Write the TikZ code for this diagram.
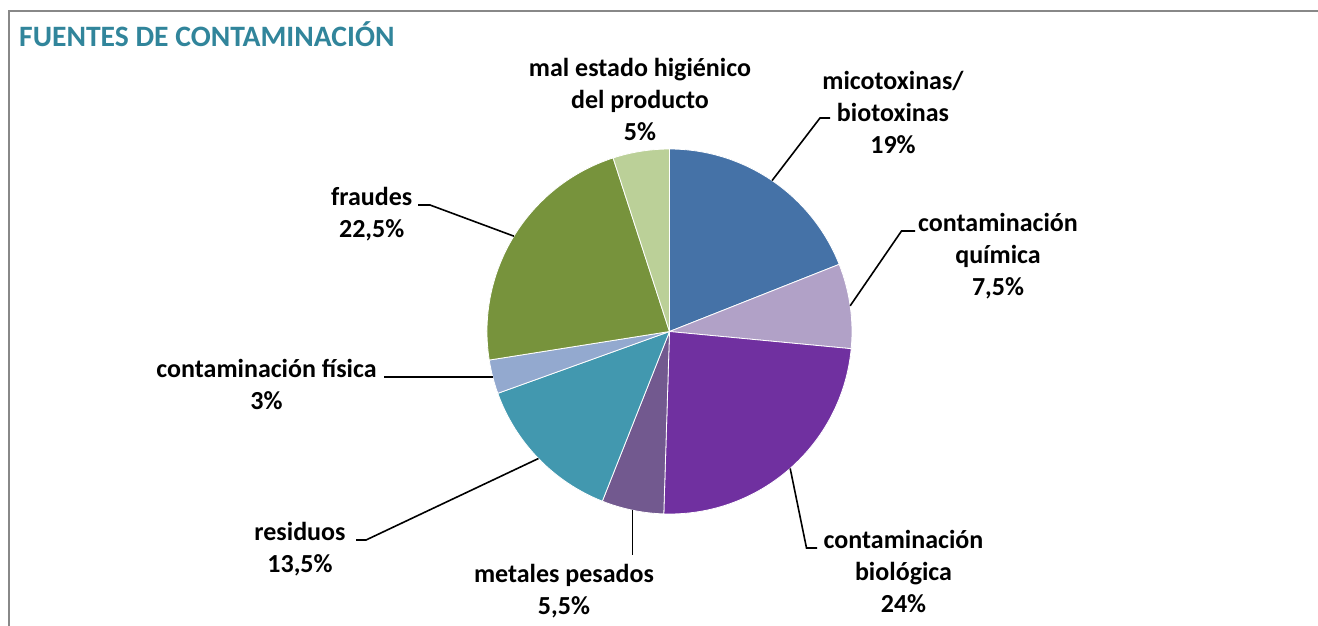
\documentclass[tikz,border=0pt]{standalone}
\usepackage{fontspec}
\setmainfont{Carlito}
\usetikzlibrary{calc}
\definecolor{cmico}{RGB}{69,114,167}
\definecolor{cquim}{RGB}{177,161,199}
\definecolor{cbio}{RGB}{112,48,160}
\definecolor{cmet}{RGB}{114,89,143}
\definecolor{cres}{RGB}{66,152,175}
\definecolor{cfis}{RGB}{147,169,207}
\definecolor{cfra}{RGB}{119,147,60}
\definecolor{cmal}{RGB}{187,208,152}
\definecolor{ctitle}{RGB}{49,133,155}
\definecolor{cframe}{RGB}{136,136,136}
\newcommand\lbltext[1]{\vtop{\baselineskip=32pt\halign{\hfil##\hfil\cr#1\crcr}}}
\tikzset{
  lab/.style={anchor=base, inner sep=0pt, font=\fontsize{26}{32}\selectfont\bfseries},
  leader/.style={draw=black, line width=1.6pt},
  slice/.style={draw=white, line width=0.8pt, line join=round},
}
\begin{document}
\begin{tikzpicture}[x=1pt,y=-1pt]
\useasboundingbox (0,0) rectangle (1318,625);
\fill[white] (0,0) rectangle (1318,625);
\draw[cframe, line width=2pt] (9,626) -- (9,11) -- (1319,11);
\node[anchor=base west, inner sep=0pt, text=ctitle, font=\fontsize{29.6}{34}\selectfont\bfseries] (title) at (19,46) {FUENTES DE CONTAMINACIÓN};
% pie
\coordinate (c) at (669.5,331.5);
\def\R{182.5}
\fill[cmico, slice] (c) -- ++(-90:\R) arc[start angle=-90, end angle=-21.6, radius=\R] -- cycle;
\fill[cquim, slice] (c) -- ++(-21.6:\R) arc[start angle=-21.6, end angle=5.4, radius=\R] -- cycle;
\fill[cbio, slice] (c) -- ++(5.4:\R) arc[start angle=5.4, end angle=91.8, radius=\R] -- cycle;
\fill[cmet, slice] (c) -- ++(91.8:\R) arc[start angle=91.8, end angle=111.6, radius=\R] -- cycle;
\fill[cres, slice] (c) -- ++(111.6:\R) arc[start angle=111.6, end angle=160.2, radius=\R] -- cycle;
\fill[cfis, slice] (c) -- ++(160.2:\R) arc[start angle=160.2, end angle=171, radius=\R] -- cycle;
\fill[cfra, slice] (c) -- ++(171:\R) arc[start angle=171, end angle=252, radius=\R] -- cycle;
\fill[cmal, slice] (c) -- ++(252:\R) arc[start angle=252, end angle=270, radius=\R] -- cycle;
% slice edge points
\coordinate (pmico) at ($(c)+(-55.8:\R)$);
\coordinate (pquim) at ($(c)+(-8.1:\R)$);
\coordinate (pbio) at ($(c)+(48.6:\R)$);
\coordinate (pmet) at ($(c)+(101.7:\R)$);
\coordinate (pres) at ($(c)+(135.9:\R)$);
\coordinate (pfis) at ($(c)+(165.6:\R)$);
\coordinate (pfra) at ($(c)+(211.5:\R)$);
% labels
\node[lab] (lmico) at (893,89) {\lbltext{micotoxinas/\cr biotoxinas\cr 19\%}};
\node[lab] (lquim) at (998,231) {\lbltext{contaminación\cr química\cr 7,5\%}};
\node[lab] (lbio) at (903.5,548) {\lbltext{contaminación\cr biológica\cr 24\%}};
\node[lab] (lmet) at (564,582) {\lbltext{metales pesados\cr 5,5\%}};
\node[lab] (lres) at (300,540) {\lbltext{residuos\cr 13,5\%}};
\node[lab] (lfis) at (266.5,377) {\lbltext{contaminación física\cr 3\%}};
\node[lab] (lfra) at (371.7,205) {\lbltext{fraudes\cr 22,5\%}};
\node[lab] (lmal) at (640,76) {\lbltext{mal estado higiénico\cr del producto\cr 5\%}};
% leader lines
\coordinate (emico) at (830,118);
\coordinate (equim) at (915,231);
\coordinate (ebio) at (817,548);
\coordinate (emet) at (632,555);
\coordinate (eres) at (356,540);
\coordinate (efis) at (384,377);
\coordinate (efra) at (418,205);
\draw[leader] (pmico) -- (820,118) -- (emico);
\draw[leader] (pquim) -- (901.5,231) -- (equim);
\draw[leader] (pbio) -- (806.5,548) -- (ebio);
\draw[leader] (pmet) -- (pmet |- emet);
\draw[leader] (pres) -- (366,540) -- (eres);
\draw[leader] (pfis) -- (pfis -| efis);
\draw[leader] (pfra) -- (430,205) -- (efra);
\end{tikzpicture}
\end{document}
